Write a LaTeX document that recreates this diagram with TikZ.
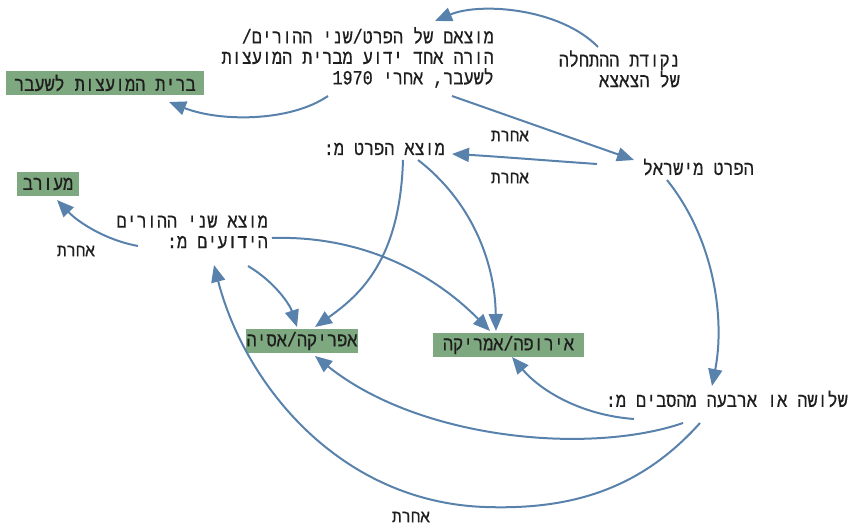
\documentclass[tikz,border=0pt]{standalone}
\usepackage{fontspec}
\usetikzlibrary{arrows.meta}
\TeXXeTstate=1
\newfontfamily\hebmono[Script=Hebrew, FakeStretch=0.84, FakeBold=0.5]{Liberation Mono}
\newfontfamily\hebsmall[Script=Hebrew, FakeStretch=0.9, FakeBold=0.4]{Liberation Mono}
\definecolor{arrowblue}{HTML}{5882AC}
\definecolor{boxgreen}{HTML}{7EA880}
\definecolor{txt}{HTML}{1E1E1E}
\tikzset{
  lbl/.style={inner sep=0pt, text=txt, font=\hebmono\fontsize{20}{20.5}\selectfont, align=right},
  small/.style={inner sep=0pt, text=txt, font=\hebsmall\fontsize{17.5}{18}\selectfont},
  gbox/.style={fill=boxgreen, inner xsep=1pt, inner ysep=0pt, minimum height=24pt, text=txt, font=\hebmono\fontsize{20}{20.5}\selectfont},
  conn/.style={draw=arrowblue, line width=2pt, -{Triangle[length=17pt,width=14pt]}}
}
\begin{document}
\begin{tikzpicture}[x=1pt,y=-1pt]
\useasboundingbox (0,0) rectangle (849,529);
% text nodes
\node[lbl, anchor=east] (A) at (494,57.5) {\beginR מוצאם של הפרט/שני ההורים/\endR\\\beginR הורה אחד ידוע מברית המועצות\endR\\\beginR לשעבר, אחרי \beginL 1970\endL\endR};
\node[lbl, anchor=east] (start) at (680,69) {\beginR נקודת ההתחלה\endR\\\beginR של הצאצא\endR};
\node[lbl, anchor=east] (isr) at (754,167) {\beginR הפרט מישראל\endR};
\node[lbl, anchor=east] (porig) at (445,149) {\beginR מוצא הפרט מ:\endR};
\node[lbl, anchor=east] (par) at (268,232) {\beginR מוצא שני ההורים\endR\\\beginR הידועים מ:\endR};
\node[lbl, anchor=east] (three) at (848,399) {\beginR שלושה או ארבעה מהסבים מ:\endR};
% boxes
\node[gbox, minimum width=198pt] (ussr) at (105,83) {\beginR ברית המועצות לשעבר\endR};
\node[gbox, minimum width=62pt] (mix) at (48,184) {\beginR מעורב\endR};
\node[gbox, minimum width=110pt] (afr) at (302,341) {\beginR אפריקה/אסיה\endR};
\node[gbox, minimum width=151pt] (eur) at (508.5,345) {\beginR אירופה/אמריקה\endR};
% small labels
\node[small] (l1) at (510,136) {\beginR אחרת\endR};
\node[small] (l2) at (510,178) {\beginR אחרת\endR};
\node[small] (l3) at (76,251) {\beginR אחרת\endR};
\node[small] (l4) at (411,517) {\beginR אחרת\endR};
% connector end points
\coordinate (s1) at (598,47);   \coordinate (t1) at (435,21);
\coordinate (s2) at (328,96);   \coordinate (t2) at (169,102);
\coordinate (s3) at (452,96);   \coordinate (t3) at (634,160);
\coordinate (s4) at (597,164);  \coordinate (t4) at (452,154);
\coordinate (s5) at (667,180);  \coordinate (t5) at (712,386);
\coordinate (s6) at (403,160);  \coordinate (t6) at (315,327);
\coordinate (s7) at (418,160);  \coordinate (t7) at (496,331);
\coordinate (s8) at (138,246);  \coordinate (t8) at (57,200);
\coordinate (s9) at (248,266);  \coordinate (t9) at (297,327);
\coordinate (s10) at (272,238); \coordinate (t10) at (490,331);
\coordinate (s11) at (634,419); \coordinate (t11) at (512,357);
\coordinate (s12) at (683,423); \coordinate (t12) at (315,356);
\coordinate (s13) at (700,423); \coordinate (m13) at (485,507); \coordinate (t13) at (214,265);
% connectors
\draw[conn] (s1) .. controls (560,8) and (480,2) .. (t1);
\draw[conn] (s2) .. controls (290,122) and (220,122) .. (t2);
\draw[conn] (s3) -- (t3);
\draw[conn] (s4) .. controls (540,160) and (490,156) .. (t4);
\draw[conn] (s5) .. controls (715,240) and (725,320) .. (t5);
\draw[conn] (s6) .. controls (400,260) and (360,295) .. (t6);
\draw[conn] (s7) .. controls (470,200) and (495,260) .. (t7);
\draw[conn] (s8) .. controls (105,240) and (78,222) .. (t8);
\draw[conn] (s9) .. controls (275,282) and (290,305) .. (t9);
\draw[conn] (s10) .. controls (370,235) and (440,280) .. (t10);
\draw[conn] (s11) .. controls (580,415) and (540,390) .. (t11);
\draw[conn] (s12) .. controls (590,455) and (420,440) .. (t12);
\draw[conn] (s13) .. controls (640,490) and (570,510) .. (m13) .. controls (340,502) and (245,385) .. (t13);
\end{tikzpicture}
\end{document}
